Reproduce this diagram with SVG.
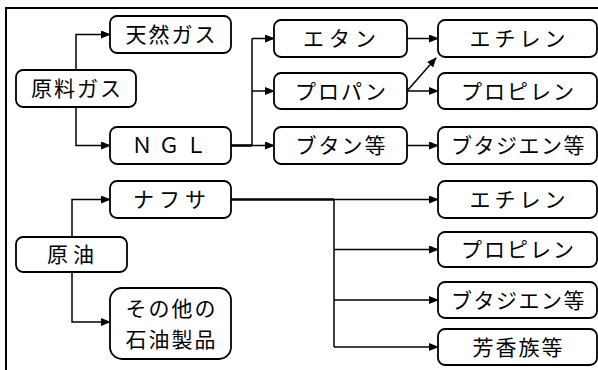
<svg xmlns="http://www.w3.org/2000/svg" width="598" height="370" viewBox="0 0 598 370">
<defs>
<marker id="ah" markerWidth="10" markerHeight="8" refX="9" refY="4" orient="auto" markerUnits="userSpaceOnUse">
<path d="M0,0 L10,4 L0,8 Z" fill="#000"/>
</marker>
<style>
.box{fill:#fff;stroke:#000;stroke-width:1.8}
.t{font-family:"Noto Sans CJK JP","Noto Sans CJK SC",sans-serif;font-size:21px;letter-spacing:2px;text-anchor:middle;fill:#000}
.c{fill:none;stroke:#000;stroke-width:1.5}
.a{marker-end:url(#ah)}
.k{stroke-width:2.6}
</style>
</defs>
<rect width="598" height="370" fill="#fff"/>
<path d="M6,370 V8 H598" fill="none" stroke="#000" stroke-width="2"/>
<g id="connectors">
<path class="c a" d="M76,70 V34.5 H110"/>
<path class="c a" d="M76,107 V145.5 H110"/>
<path class="c k" d="M231,145.5 H252"/>
<path class="c" d="M252,38.5 V145.5"/>
<path class="c a" d="M252,38.5 H274"/>
<path class="c a" d="M252,91 H274"/>
<path class="c a" d="M252,145.5 H274"/>
<path class="c a" d="M407,38.5 H438"/>
<path class="c a" d="M407,91 H438"/>
<path class="c a" d="M407,91 L436,58"/>
<path class="c a" d="M407,145.5 H438"/>
<path class="c a" d="M72,237 V199.5 H110"/>
<path class="c a" d="M72,272 V322 H110"/>
<path class="c k" d="M231,199.5 H334"/>
<path class="c a" d="M334,199.5 H438"/>
<path class="c" d="M334,199.5 V347"/>
<path class="c a" d="M334,249.5 H438"/>
<path class="c a" d="M334,300 H438"/>
<path class="c a" d="M334,347 H438"/>
</g>
<g id="n-tennengas"><rect class="box" x="110" y="16" width="121" height="37" rx="7"/><text class="t" x="171.5" y="42">天然ガス</text></g>
<g id="n-genryogas"><rect class="box" x="16" y="70" width="120" height="37" rx="7"/><text class="t" x="77" y="96">原料ガス</text></g>
<g id="n-ngl"><rect class="box" x="110" y="127" width="121" height="37" rx="7"/><text class="t" x="172" y="153" style="letter-spacing:6px">ＮＧＬ</text></g>
<g id="n-etan"><rect class="box" x="274" y="20" width="133" height="37" rx="7"/><text class="t" x="342" y="46" style="letter-spacing:5px">エタン</text></g>
<g id="n-propan"><rect class="box" x="274" y="73" width="133" height="36" rx="7"/><text class="t" x="341.5" y="98.5">プロパン</text></g>
<g id="n-butan"><rect class="box" x="274" y="127" width="133" height="37" rx="7"/><text class="t" x="341.5" y="153">ブタン等</text></g>
<g id="n-etiren1"><rect class="box" x="438" y="20" width="159" height="37" rx="7"/><text class="t" x="519.5" y="46" style="letter-spacing:4px">エチレン</text></g>
<g id="n-propiren1"><rect class="box" x="438" y="73" width="159" height="36" rx="7"/><text class="t" x="518.5" y="98.5">プロピレン</text></g>
<g id="n-butajien1"><rect class="box" x="438" y="127" width="159" height="37" rx="7"/><text class="t" x="518.5" y="153" style="letter-spacing:1.5px">ブタジエン等</text></g>
<g id="n-nafusa"><rect class="box" x="110" y="181" width="121" height="37" rx="7"/><text class="t" x="172" y="207" style="letter-spacing:5px">ナフサ</text></g>
<g id="n-genyu"><rect class="box" x="16" y="237" width="111" height="35" rx="7"/><text class="t" x="73" y="262" style="letter-spacing:5px">原油</text></g>
<g id="n-sonota"><rect class="box" x="110" y="288" width="121" height="71" rx="12"/><text class="t" x="171.5" y="316">その他の</text><text class="t" x="171.5" y="347">石油製品</text></g>
<g id="n-etiren2"><rect class="box" x="438" y="181" width="159" height="37" rx="7"/><text class="t" x="519.5" y="207" style="letter-spacing:4px">エチレン</text></g>
<g id="n-propiren2"><rect class="box" x="438" y="232" width="159" height="35" rx="7"/><text class="t" x="518.5" y="257">プロピレン</text></g>
<g id="n-butajien2"><rect class="box" x="438" y="282" width="159" height="36" rx="7"/><text class="t" x="518.5" y="307.5" style="letter-spacing:1.5px">ブタジエン等</text></g>
<g id="n-houkou"><rect class="box" x="438" y="329" width="159" height="36" rx="7"/><text class="t" x="518.5" y="354.5">芳香族等</text></g>
</svg>
